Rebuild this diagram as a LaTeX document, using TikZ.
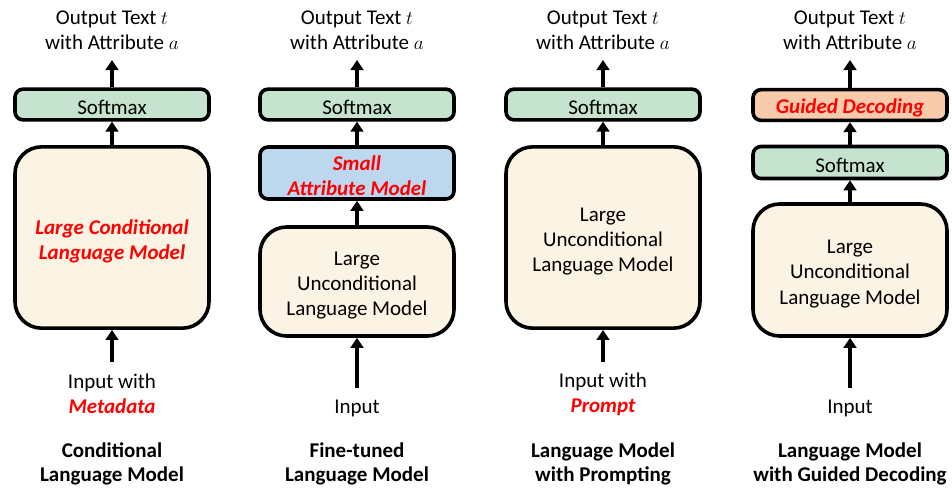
\documentclass[tikz,border=0pt]{standalone}
\usepackage{fontspec}
\setmainfont{Carlito}
\usetikzlibrary{arrows.meta}
\definecolor{smxgreen}{HTML}{C5E3CE}
\definecolor{lmcream}{HTML}{FBF3E3}
\definecolor{attblue}{HTML}{BDD7EE}
\definecolor{gdorange}{HTML}{F8CBAD}
\definecolor{hired}{HTML}{FF0000}
\begin{document}
\begin{tikzpicture}[x=0.75pt,y=-0.75pt,
  every node/.style={font=\fontsize{15.75}{18.8}\selectfont, align=center, inner sep=0pt},
  smallbox/.style={draw, line width=2.7pt, rounded corners=6pt, minimum width=145.5pt, minimum height=23pt},
  bigbox/.style={draw, line width=2.7pt, rounded corners=20pt, minimum width=145.5pt, fill=lmcream},
  intxt/.style={yshift=-2.25pt},
  bigtxt/.style={yshift=-3pt},
  hl/.style={text=hired, font=\fontsize{15.75}{18.8}\selectfont\bfseries\itshape},
  ttl/.style={font=\fontsize{15.75}{18.2}\selectfont\bfseries},
  arr/.style={line width=2.4pt, -{Triangle[length=7.5pt,width=9.5pt]}}
]
\useasboundingbox (0,0) rectangle (952,487);

% ---------- Column 1: Conditional LM ----------
\node (out1) at (112,30.5) {Output Text $t$\\with Attribute $a$};
\node[smallbox, fill=smxgreen, label={[intxt]center:Softmax}] (sm1) at (112,104.5) {};
\node[bigbox, minimum height=136pt, label={[bigtxt,hl]center:Large Conditional\\Language Model}] (lg1) at (112,237.5) {};
\node (in1) at (112,394) {Input with\\\textcolor{hired}{\bfseries\itshape Metadata}};
\node[ttl] (t1) at (112,464) {Conditional\\Language Model};
\coordinate (o1) at (112,60);
\coordinate (i1) at (112,362);
\draw[arr] (sm1.north) -- (o1);
\draw[arr] (lg1.north) -- (sm1.south);
\draw[arr] (i1) -- (lg1.south);

% ---------- Column 2: Fine-tuned LM ----------
\node (out2) at (357,30.5) {Output Text $t$\\with Attribute $a$};
\node[smallbox, fill=smxgreen, label={[intxt]center:Softmax}] (sm2) at (357,104.5) {};
\node[smallbox, fill=attblue, minimum height=39pt, label={[intxt,hl]center:Small\\Attribute Model}] (sa2) at (357,173) {};
\node[bigbox, minimum height=81.75pt, label={[bigtxt]center:Large\\Unconditional\\Language Model}] (lg2) at (357,281.5) {};
\node (in2) at (357,408) {Input};
\node[ttl] (t2) at (357,464) {Fine-tuned\\Language Model};
\coordinate (o2) at (357,60);
\coordinate (i2) at (357,388);
\draw[arr] (sm2.north) -- (o2);
\draw[arr] (sa2.north) -- (sm2.south);
\draw[arr] (lg2.north) -- (sa2.south);
\draw[arr] (i2) -- (lg2.south);

% ---------- Column 3: LM with Prompting ----------
\node (out3) at (603,30.5) {Output Text $t$\\with Attribute $a$};
\node[smallbox, fill=smxgreen, label={[intxt]center:Softmax}] (sm3) at (603,104.5) {};
\node[bigbox, minimum height=136pt, label={[bigtxt]center:Large\\Unconditional\\Language Model}] (lg3) at (603,237.5) {};
\node (in3) at (603,394) {Input with\\\textcolor{hired}{\bfseries\itshape Prompt}};
\node[ttl] (t3) at (603,464) {Language Model\\with Prompting};
\coordinate (o3) at (603,60);
\coordinate (i3) at (603,362);
\draw[arr] (sm3.north) -- (o3);
\draw[arr] (lg3.north) -- (sm3.south);
\draw[arr] (i3) -- (lg3.south);

% ---------- Column 4: LM with Guided Decoding ----------
\node (out4) at (850,30.5) {Output Text $t$\\with Attribute $a$};
\node[smallbox, fill=gdorange, label={[intxt,hl]center:Guided Decoding}] (gd4) at (850,105) {};
\node[smallbox, fill=smxgreen, minimum height=24pt, label={[intxt]center:Softmax}] (sm4) at (850,162.5) {};
\node[bigbox, minimum height=99pt, label={[bigtxt]center:Large\\Unconditional\\Language Model}] (lg4) at (850,270) {};
\node (in4) at (850,408) {Input};
\node[ttl] (t4) at (850,464) {Language Model\\with Guided Decoding};
\coordinate (o4) at (850,60);
\coordinate (i4) at (850,388);
\draw[arr] (gd4.north) -- (o4);
\draw[arr] (sm4.north) -- (gd4.south);
\draw[arr] (lg4.north) -- (sm4.south);
\draw[arr] (i4) -- (lg4.south);
\end{tikzpicture}
\end{document}
